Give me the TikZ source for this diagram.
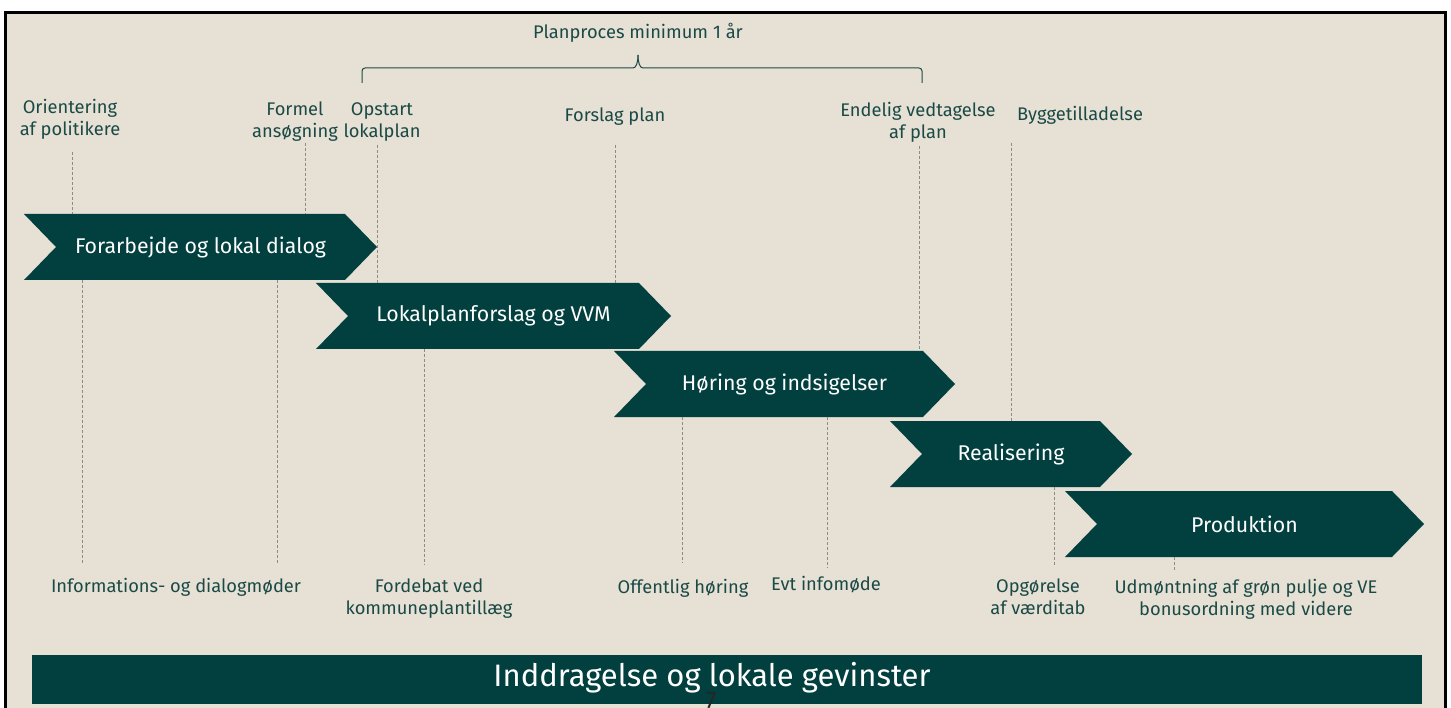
\documentclass[tikz,border=0pt]{standalone}
\usepackage{fontspec}
\setmainfont{Fira Sans}
\definecolor{bg}{HTML}{E6E0D5}
\definecolor{dteal}{HTML}{01403F}
\definecolor{txt}{HTML}{1B4A46}
\definecolor{dashc}{HTML}{8C8C84}
\newcommand\mychev[6]{%
  \fill[dteal] (#2,#4) -- ({#3-32},#4) -- (#3,{(#4+#5)/2}) -- ({#3-32},#5) -- (#2,#5) -- ({#2+32},{(#4+#5)/2}) -- cycle;
  \node[boxtext] (#1) at ({(#2+#3)/2},{(#4+#5)/2}) {#6};}
\begin{document}
\begin{tikzpicture}[x=1pt,y=-1pt,
  lab/.style={text=txt,font=\fontsize{18.3}{22}\selectfont,align=center,inner sep=0pt},
  boxtext/.style={text=white,font=\fontsize{21.3}{26}\selectfont,inner sep=0pt},
  dl/.style={draw=dashc,line width=0.9pt,dash pattern=on 3pt off 2pt},
  brc/.style={draw=txt,line width=1pt}]
\useasboundingbox (0,0) rectangle (1451,708);
\fill[white] (0,0) rectangle (1451,708);
\fill[bg] (5,12) rectangle (1446,712);
\draw[line width=2.6pt] (5.5,720) -- (5.5,12.5) -- (1445.5,12.5) -- (1445.5,720);

% chevrons
\mychev{b1}{24}{377}{214}{280}{Forarbejde og lokal dialog}
\mychev{b2}{316}{671}{283}{349}{Lokalplanforslag og VVM}
\mychev{b3}{614}{955}{351}{417}{Høring og indsigelser}
\mychev{b4}{890}{1132}{421}{487}{Realisering}
\mychev{b5}{1065}{1424}{491}{557}{Produktion}

% bottom bar
\fill[dteal] (32,655) rectangle (1422,704);
\node[text=white,font=\fontsize{31}{36}\selectfont,inner sep=0pt] (bar) at (712,678) {Inddragelse og lokale gevinster};
\node[font=\fontsize{24}{28}\selectfont,text=black!85,anchor=north,inner sep=0pt] (pg) at (711,692) {7};

% brace
\node[lab] (plan) at (638,33) {Planproces minimum 1 år};
\coordinate (brL) at (362,83);
\coordinate (brM) at (638,55);
\coordinate (brR) at (922,83);
\draw[brc,rounded corners=3pt] (brL) -- (362,68) -- (630,68) .. controls (636,68) and (638,63) .. (brM);
\draw[brc,rounded corners=3pt] (brR) -- (922,68) -- (646,68) .. controls (640,68) and (638,63) .. (brM);

% top labels
\node[lab] (orient) at (70,119) {Orientering\\af politikere};
\node[lab] (formel) at (295,122) {Formel\\ansøgning};
\node[lab] (opstart) at (382,122) {Opstart\\lokalplan};
\node[lab] (forslag) at (615,117) {Forslag plan};
\node[lab] (endelig) at (918,122) {Endelig vedtagelse\\af plan};
\node[lab] (bygge) at (1080,115) {Byggetilladelse};

% bottom labels
\node[lab] (info) at (176,587) {Informations- og dialogmøder};
\node[lab] (fordebat) at (429,599) {Fordebat ved\\kommuneplantillæg};
\node[lab] (offentlig) at (683,588) {Offentlig høring};
\node[lab] (evt) at (826,585) {Evt infomøde};
\node[lab] (opgor) at (1038,597) {Opgørelse\\af værditab};
\node[lab] (udm) at (1246,599) {Udmøntning af grøn pulje og VE\\bonusordning med videre};

% dashed lines top
\coordinate (t1a) at (72,152);   \coordinate (t1b) at (72,214);
\coordinate (t2a) at (305,143);  \coordinate (t2b) at (305,214);
\coordinate (t3a) at (377,145);  \coordinate (t3b) at (377,283);
\coordinate (t4a) at (615,145);  \coordinate (t4b) at (615,283);
\coordinate (t5a) at (919,146);  \coordinate (t5b) at (919,351);
\coordinate (t6a) at (1011,143); \coordinate (t6b) at (1011,421);
\foreach \i in {1,...,6} \draw[dl] (t\i a) -- (t\i b);

% dashed lines bottom
\coordinate (u1a) at (82,280);   \coordinate (u1b) at (82,564);
\coordinate (u2a) at (277,280);  \coordinate (u2b) at (277,563);
\coordinate (u3a) at (424,349);  \coordinate (u3b) at (424,565);
\coordinate (u4a) at (682,417);  \coordinate (u4b) at (682,563);
\coordinate (u5a) at (827,417);  \coordinate (u5b) at (827,568);
\coordinate (u6a) at (1054,487); \coordinate (u6b) at (1054,565);
\coordinate (u7a) at (1174,557); \coordinate (u7b) at (1174,570);
\foreach \i in {1,...,7} \draw[dl] (u\i a) -- (u\i b);
\end{tikzpicture}
\end{document}
